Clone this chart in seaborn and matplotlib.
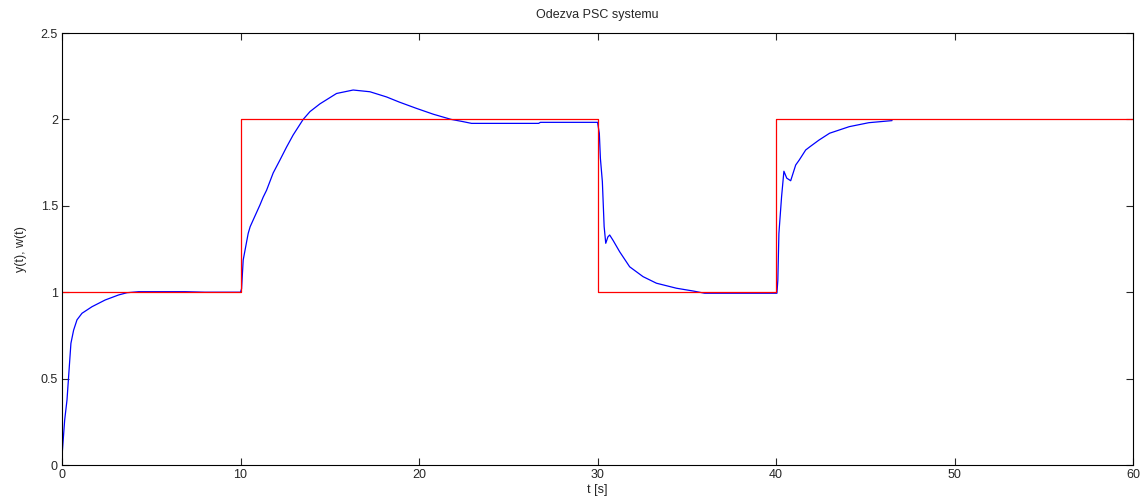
import seaborn as sns
import pandas as pd
import matplotlib.pyplot as plt

# output y(t) of the PSC control loop
t_y = [0.0, 0.15, 0.28, 0.41, 0.5, 0.65, 0.84, 1.12, 1.68, 2.42, 3.17, 3.64,
       4.3, 6.9, 8.0, 10.0, 10.06, 10.15, 10.43, 10.54, 10.71, 11.09, 11.27,
       11.46, 11.83, 12.21, 12.58, 12.95, 13.51, 13.89, 14.45, 15.38, 16.31,
       17.25, 18.18, 18.9, 19.85, 20.8, 21.8, 22.47, 22.94, 26.7, 26.8,
       30.0, 30.1, 30.16, 30.27, 30.37, 30.46, 30.58, 30.68, 30.87, 31.24,
       31.8, 32.55, 33.3, 34.42, 35.35, 36.0, 40.05, 40.1, 40.16, 40.31,
       40.44, 40.6, 40.82, 41.1, 41.3, 41.66, 41.9, 42.4, 43.0, 44.1, 45.2,
       46.5]
y = [0.05, 0.26, 0.376, 0.57, 0.704, 0.78, 0.84, 0.878, 0.916, 0.955, 0.984,
     0.997, 1.003, 1.003, 1.0, 1.0, 1.02, 1.186, 1.34, 1.379, 1.418, 1.505,
     1.55, 1.59, 1.69, 1.765, 1.84, 1.91, 2.0, 2.045, 2.09, 2.15, 2.17,
     2.16, 2.13, 2.10, 2.064, 2.03, 2.0, 1.987, 1.977, 1.977, 1.983,
     1.983, 1.92, 1.775, 1.64, 1.38, 1.283, 1.32, 1.331, 1.3, 1.234,
     1.147, 1.09, 1.052, 1.023, 1.007, 0.994, 0.994, 1.07, 1.34, 1.553,
     1.70, 1.66, 1.645, 1.736, 1.765, 1.823, 1.842, 1.88, 1.92, 1.958,
     1.981, 1.993]

# reference w(t)
t_w = [0, 10, 10, 30, 30, 40, 40, 60]
w = [1, 1, 2, 2, 1, 1, 2, 2]

df_y = pd.DataFrame({'t': t_y, 'val': y})
df_w = pd.DataFrame({'t': t_w, 'val': w})

sns.set_style('ticks')
plt.rcParams['font.family'] = ['Liberation Sans', 'DejaVu Sans']
plt.rcParams['xtick.direction'] = 'in'
plt.rcParams['ytick.direction'] = 'in'

fig = plt.figure(figsize=(11.48, 5.0), dpi=100)
ax = fig.add_axes([0.054, 0.07, 0.933, 0.864])

sns.lineplot(data=df_y, x='t', y='val', sort=False, estimator=None,
             color='#0000ff', linewidth=0.9, ax=ax)
sns.lineplot(data=df_w, x='t', y='val', sort=False, estimator=None,
             color='#ff0000', linewidth=0.9, ax=ax)

ax.set_xlim(0, 60)
ax.set_ylim(0, 2.5)
ax.set_xticks([0, 10, 20, 30, 40, 50, 60])
ax.set_yticks([0, 0.5, 1, 1.5, 2, 2.5])
ax.set_yticklabels(['0', '0.5', '1', '1.5', '2', '2.5'])
ax.tick_params(axis='both', labelsize=9, length=5, width=0.8,
               top=True, right=True, pad=3)
for s in ax.spines.values():
    s.set_linewidth(0.8)
    s.set_color('black')
ax.set_title('Odezva PSC systemu', fontsize=9, pad=11)
ax.set_xlabel('t [s]', fontsize=9, labelpad=2)
ax.set_ylabel('y(t), w(t)', fontsize=9, labelpad=10)

fig.savefig('out.png', dpi=100)
